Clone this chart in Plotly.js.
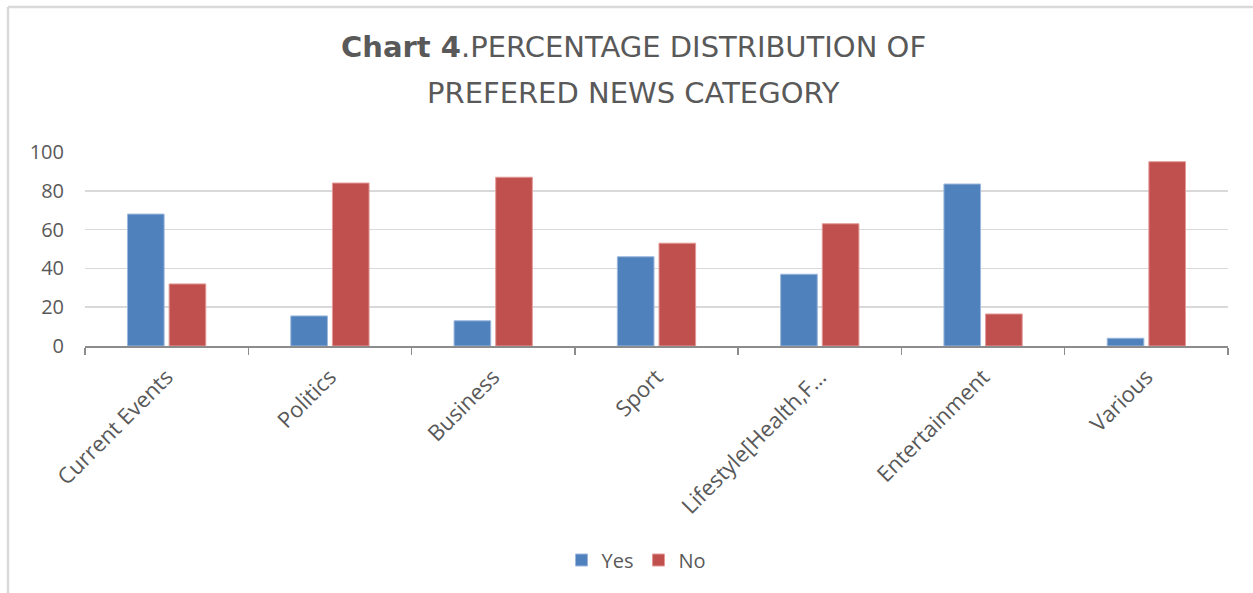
<!DOCTYPE html>
<html>
<head>
<meta charset="utf-8">
<script src="https://cdn.plot.ly/plotly-3.0.1.min.js"></script>
<style>
html,body{margin:0;padding:0;background:#fff;}
#chart{width:1253px;height:593px;}
</style>
</head>
<body>
<div id="chart"></div>
<script>
const categories = ["Current Events", "Politics", "Business", "Sport", "Lifestyle[Health,F…", "Entertainment", "Various"];
const yesValues = [68, 15.5, 13, 46, 37, 83.5, 4];
const noValues = [32, 84, 87, 53, 63, 16.5, 95];
const yTicks = [0, 20, 40, 60, 80, 100];
const seriesNames = ["Yes", "No"];
const titleLines = ["<b>Chart 4</b>.PERCENTAGE DISTRIBUTION OF", "PREFERED NEWS CATEGORY"];

const FONT = "Open Sans, Liberation Sans, sans-serif";
const TFONT = "DejaVu Sans, Open Sans, sans-serif";
const GREY = "#595959";

const traces = [
  {type: "bar", name: seriesNames[0], x: categories, y: yesValues,
   marker: {color: "#4F81BD", line: {color: "#9DB8DC", width: 1}}},
  {type: "bar", name: seriesNames[1], x: categories, y: noValues,
   marker: {color: "#C0504D", line: {color: "#E39A98", width: 1}}}
];

const W = 1253, H = 593, L = 85, R = 25, T = 152, B = 247;
const pw = W - L - R, ph = H - T - B;
const px = v => (v - L) / pw;
const py = v => (H - B - v) / ph;

const layout = {
  width: W, height: H,
  margin: {l: L, r: R, t: T, b: B, autoexpand: false},
  paper_bgcolor: "#fff", plot_bgcolor: "#fff",
  font: {family: FONT, color: GREY, size: 20},
  barmode: "group",
  bargap: 0.49,
  bargroupgap: 0.12,
  showlegend: true,
  legend: {orientation: "h", xref: "container", yref: "container",
           x: 0.508, xanchor: "center", y: 1 - 560 / H, yanchor: "middle",
           font: {size: 20, color: GREY, family: FONT}, traceorder: "normal"},
  xaxis: {
    type: "category",
    tickangle: -45,
    tickfont: {size: 22, color: GREY, family: FONT},
    ticklabelstandoff: 8,
    showline: true, linecolor: "#8C8C8C", linewidth: 1.5,
    ticks: "outside", tickson: "boundaries", ticklen: 7, tickcolor: "#8C8C8C", tickwidth: 1.5,
    showgrid: false, zeroline: false, automargin: false
  },
  yaxis: {
    range: [0, 100],
    tickvals: yTicks,
    ticktext: yTicks.map(String),
    tickfont: {size: 20, color: GREY, family: FONT},
    ticklabelstandoff: 20,
    showgrid: true, gridcolor: "#D9D9D9", gridwidth: 1.5,
    zeroline: false, showline: false, ticks: "", ticklen: 0,
    automargin: false
  },
  annotations: [
    {text: titleLines[0], xref: "paper", yref: "paper", x: px(633), y: py(47),
     xanchor: "center", yanchor: "middle", showarrow: false,
     font: {family: TFONT, size: 29, color: GREY}},
    {text: titleLines[1], xref: "paper", yref: "paper", x: px(633), y: py(93),
     xanchor: "center", yanchor: "middle", showarrow: false,
     font: {family: TFONT, size: 29, color: GREY}}
  ],
  shapes: [
    {type: "line", xref: "paper", yref: "paper", x0: px(8), x1: px(8), y0: py(7), y1: py(600),
     line: {color: "#D9D9D9", width: 2.5}},
    {type: "line", xref: "paper", yref: "paper", x0: px(8), x1: px(1260), y0: py(7), y1: py(7),
     line: {color: "#D9D9D9", width: 2.5}}
  ]
};

Plotly.newPlot("chart", traces, layout, {displayModeBar: false, staticPlot: true});
</script>
</body>
</html>
